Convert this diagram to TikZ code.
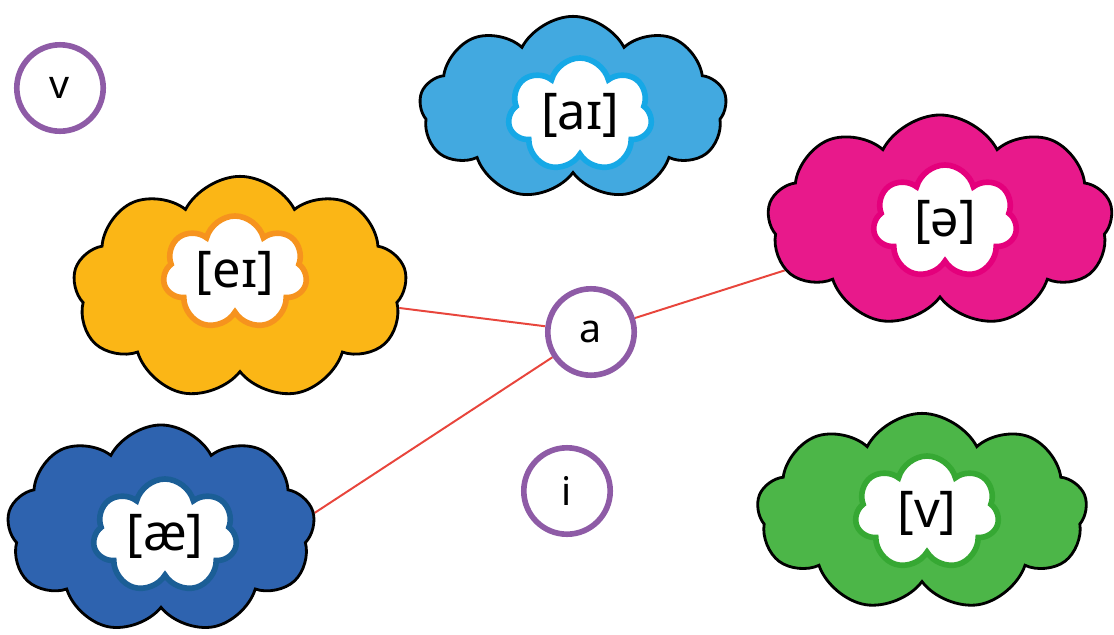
\documentclass[tikz,border=0pt]{standalone}
\usepackage{fontspec}
\setmainfont{Noto Sans}
\usepackage{xcolor}
\usepackage{tikz}
\usetikzlibrary{shapes.symbols,backgrounds}

\definecolor{ringpurple}{HTML}{8E5BA6}
\definecolor{linkred}{HTML}{E8453C}
\definecolor{skyblue}{HTML}{42A9E0}
\definecolor{skyrim}{HTML}{16A8E6}
\definecolor{rosepink}{HTML}{E8198B}
\definecolor{roserim}{HTML}{E4007C}
\definecolor{sunorange}{HTML}{FBB616}
\definecolor{sunrim}{HTML}{F6931E}
\definecolor{deepblue}{HTML}{2E63AF}
\definecolor{deeprim}{HTML}{1B5E96}
\definecolor{leafgreen}{HTML}{4CB648}
\definecolor{leafrim}{HTML}{36A833}

\begin{document}
\begin{tikzpicture}[
    x=0.025cm, y=-0.025cm,
    bigcloud/.style={cloud, cloud puffs=9, cloud puff arc=125, cloud ignores aspect, draw=black, line width=2pt, inner sep=0pt},
    smallcloud/.style={cloud, cloud puffs=7, cloud puff arc=150, cloud ignores aspect, fill=white, line width=4pt, inner sep=0pt, minimum width=3.6cm, minimum height=2.85cm, font=\fontsize{36}{40}\selectfont},
    letter/.style={circle, draw=ringpurple, fill=white, line width=4pt, minimum size=2.16cm, inner sep=0pt, font=\fontsize{28}{32}\selectfont},
    link/.style={draw=linkred, line width=1.4pt}
]
\useasboundingbox (0,0) rectangle (1114,634);

\node[bigcloud, fill=skyblue, minimum width=7.68cm, minimum height=4.58cm] (aicloud) at (573,108) {};
\node[bigcloud, fill=rosepink, minimum width=8.63cm, minimum height=5.3cm] (schwacloud) at (940,221) {};
\node[bigcloud, fill=sunorange, minimum width=8.35cm, minimum height=5.58cm] (eicloud) at (240,288) {};
\node[bigcloud, fill=deepblue, minimum width=7.7cm, minimum height=5.2cm] (aecloud) at (161,529) {};
\node[bigcloud, fill=leafgreen, minimum width=8.25cm, minimum height=4.93cm] (vcloud) at (922,512) {};

\node[smallcloud, draw=skyrim] (ai) at (580,115) {[aɪ]};
\node[smallcloud, draw=roserim] (schwa) at (945,222) {[ə]};
\node[smallcloud, draw=sunrim] (ei) at (235,273) {[eɪ]};
\node[smallcloud, draw=deeprim] (ae) at (165,536) {[æ]};
\node[smallcloud, draw=leafrim] (v) at (927,513) {[v]};

\node[letter] (lv) at (60,88) {v};
\node[letter] (la) at (591,332) {a};
\node[letter] (li) at (567,491) {i};

\begin{scope}[on background layer]
\draw[link] (eicloud) -- (la);
\draw[link] (la) -- (schwacloud);
\draw[link] (la) -- (aecloud.6);
\end{scope}

\end{tikzpicture}
\end{document}
